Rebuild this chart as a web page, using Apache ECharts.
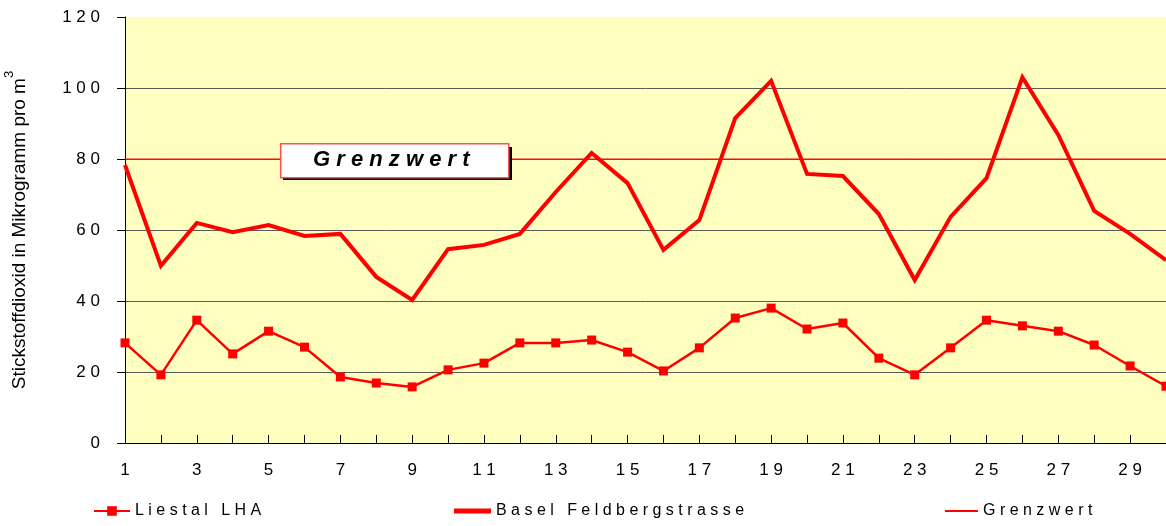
<!DOCTYPE html>
<html>
<head>
<meta charset="utf-8">
<script src="https://cdn.jsdelivr.net/npm/echarts@6/dist/echarts.min.js"></script>
<style>
  html, body { margin: 0; padding: 0; background: #fff; }
  #chart { width: 1166px; height: 526px; }
</style>
</head>
<body>
<div id="chart"></div>
<script>
// Tage 1..30
let days = [];
for (let i = 1; i <= 30; i++) {
    days.push(String(i));
}
let liestal = [28.2, 19.2, 34.6, 25.1, 31.5, 27.0, 18.6, 16.9, 15.8, 20.6,
               22.5, 28.2, 28.2, 29.0, 25.6, 20.3, 26.8, 35.2, 38.0, 32.1,
               33.8, 23.9, 19.2, 26.8, 34.6, 33.0, 31.5, 27.6, 21.7, 16.0];
let basel = [78.3, 49.9, 62.0, 59.4, 61.4, 58.3, 58.9, 46.8, 40.3, 54.6,
             55.8, 58.9, 70.7, 81.7, 73.2, 54.4, 62.8, 91.5, 102.0, 75.8,
             75.2, 64.5, 45.9, 63.7, 74.6, 103.0, 86.8, 65.4, 58.9, 51.5];
let grenzwert = [80, 80, 80, 80, 80, 80, 80, 80, 80, 80,
                 80, 80, 80, 80, 80, 80, 80, 80, 80, 80,
                 80, 80, 80, 80, 80, 80, 80, 80, 80, 80];
let seriesNames = ['Liestal LHA', 'Basel Feldbergstrasse', 'Grenzwert'];

// gesperrte Schrift wie im Original
function spaced(s) {
    return String(s).split('').join(' ');
}

let myChart = echarts.init(document.getElementById('chart'));
let font = 'Liberation Sans, Arial, sans-serif';
let legendBase = {
    bottom: 2,
    itemWidth: 36,
    itemHeight: 12,
    textStyle: {fontFamily: font, fontSize: 16, color: '#000'},
    formatter: function (name) { return spaced(name); }
};
let option = {
    animation: false,
    backgroundColor: '#ffffff',
    textStyle: {fontFamily: font},
    grid: {
        left: 125,
        right: 0,
        top: 17,
        bottom: 83,
        outerBoundsMode: 'none',
        containLabel: false,
        show: true,
        backgroundColor: '#FFFFC0',
        borderWidth: 0
    },
    legend: [
        Object.assign({}, legendBase, {data: [seriesNames[0]], left: 88}),
        Object.assign({}, legendBase, {
            data: [{name: seriesNames[1], icon: 'rect'}],
            left: 449, itemWidth: 37, itemHeight: 5
        }),
        Object.assign({}, legendBase, {
            data: [{name: seriesNames[2], icon: 'rect'}],
            left: 940, itemWidth: 33, itemHeight: 2
        })
    ],
    xAxis: {
        type: 'category',
        boundaryGap: false,
        data: days,
        axisLine: {lineStyle: {color: '#000', width: 1}},
        axisTick: {inside: true, length: 8, interval: 0, lineStyle: {color: '#000'}},
        axisLabel: {
            interval: 1,
            margin: 19,
            color: '#000',
            fontSize: 17,
            fontFamily: font,
            formatter: function (v) { return spaced(v); }
        },
        splitLine: {show: false}
    },
    yAxis: {
        type: 'value',
        min: 0,
        max: 120,
        interval: 20,
        name: '{a|Stickstoffdioxid in Mikrogramm pro m}{s|3}',
        nameLocation: 'middle',
        nameGap: 96,
        nameRotate: 90,
        nameTextStyle: {
            color: '#000',
            fontFamily: font,
            rich: {
                a: {fontSize: 19, fontFamily: font, color: '#000', lineHeight: 26, verticalAlign: 'bottom'},
                s: {fontSize: 13, fontFamily: font, color: '#000', lineHeight: 26, verticalAlign: 'top'}
            }
        },
        axisLine: {show: true, lineStyle: {color: '#000', width: 1}},
        axisTick: {show: true, length: 8, lineStyle: {color: '#000'}},
        axisLabel: {
            margin: 25,
            color: '#000',
            fontSize: 17,
            fontFamily: font,
            formatter: function (v) { return spaced(v); }
        },
        splitLine: {
            show: true,
            showMaxLine: false,
            lineStyle: {color: '#5a5a5a', width: 1}
        }
    },
    series: [
        {
            name: seriesNames[2],
            type: 'line',
            data: grenzwert,
            symbol: 'none',
            lineStyle: {color: '#ff0000', width: 1},
            itemStyle: {color: '#ff0000'},
            z: 3
        },
        {
            name: seriesNames[0],
            type: 'line',
            data: liestal,
            symbol: 'rect',
            symbolSize: 9,
            lineStyle: {color: '#ff0000', width: 2.5},
            itemStyle: {color: '#ff0000'},
            z: 4
        },
        {
            name: seriesNames[1],
            type: 'line',
            data: basel,
            symbol: 'none',
            lineStyle: {color: '#ff0000', width: 4, join: 'miter'},
            itemStyle: {color: '#ff0000'},
            z: 5
        }
    ],
    graphic: [
        {
            type: 'rect',
            left: 283,
            top: 147,
            shape: {width: 229, height: 33},
            style: {fill: '#000'},
            z: 100
        },
        {
            type: 'rect',
            left: 280,
            top: 143,
            shape: {width: 228, height: 34},
            style: {fill: '#fff', stroke: '#ff5050', lineWidth: 1.5},
            z: 101
        },
        {
            type: 'text',
            left: 313,
            top: 149,
            style: {
                text: spaced('Grenzwert'),
                fill: '#000',
                font: 'italic bold 22px Liberation Sans, Arial, sans-serif'
            },
            z: 102
        }
    ]
};
myChart.setOption(option);
</script>
</body>
</html>
